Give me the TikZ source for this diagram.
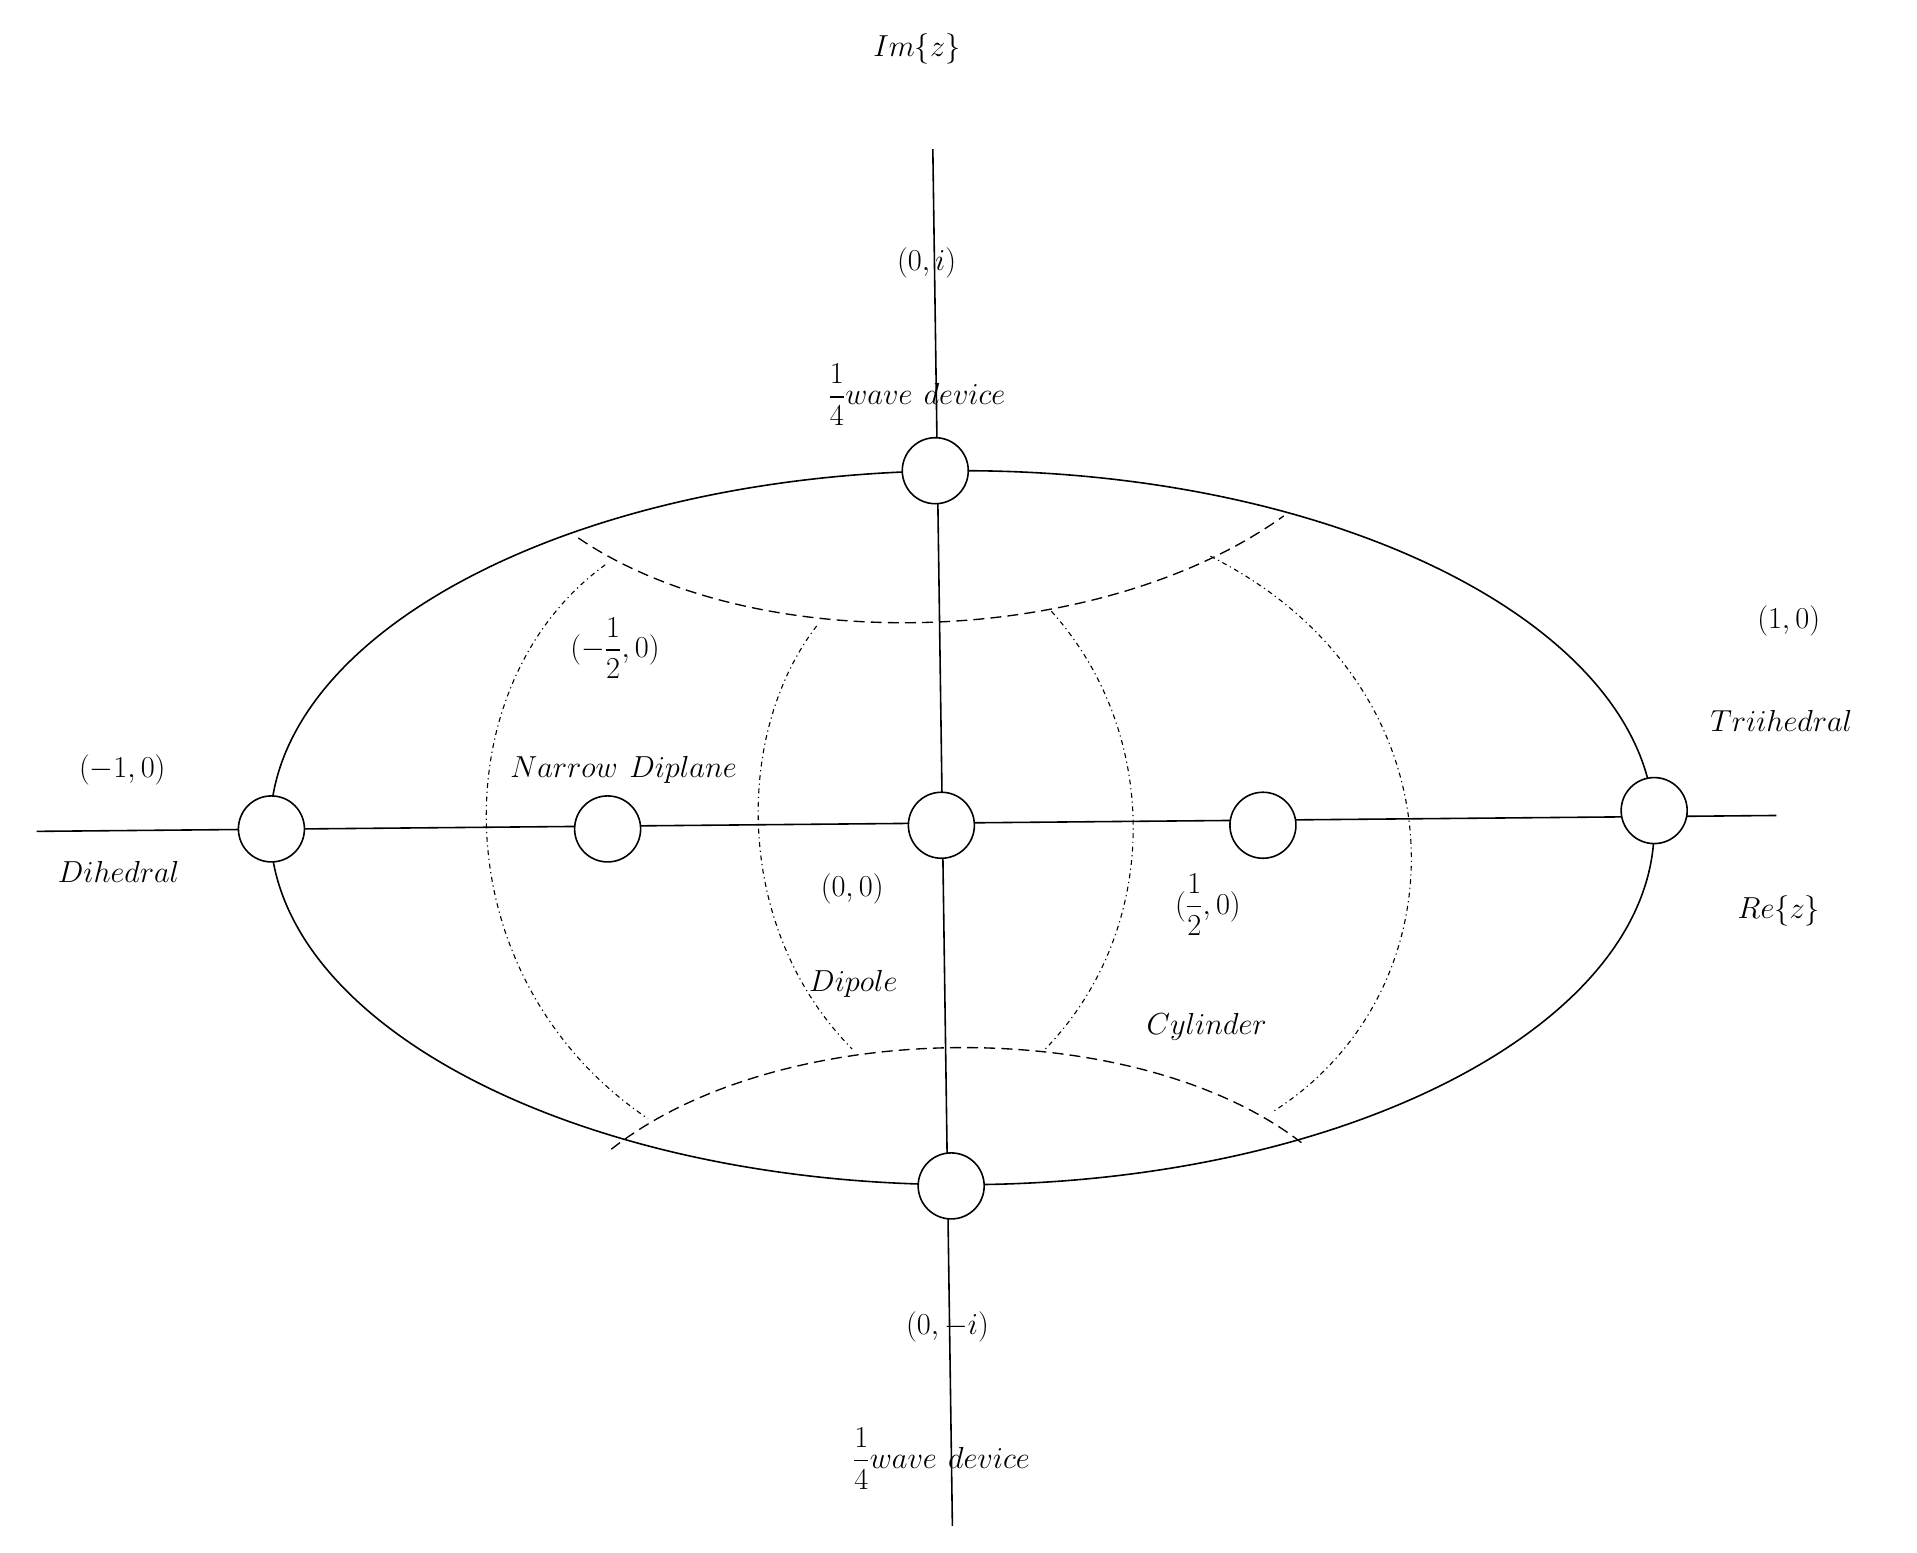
\documentclass[tikz,border=0pt]{standalone}
\usepackage{amsmath}
\begin{document}
\begin{tikzpicture}[x=1pt,y=-1pt,
  lab/.style={font=\fontsize{31}{37}\selectfont, inner sep=0pt},
  pt/.style={circle, draw, fill=white, line width=1.3pt, minimum size=54pt, inner sep=0pt},
  ax/.style={line width=1.3pt},
  dsh/.style={line width=1.1pt, dash pattern=on 9pt off 5pt},
  dot/.style={line width=0.9pt, dash pattern=on 4pt off 3pt on 1pt off 3pt}]
\useasboundingbox (0,0) rectangle (1568,1270);
\coordinate (top) at (763,122);
\coordinate (bot) at (779,1248);
\coordinate (lft) at (30,680);
\coordinate (rgt) at (1453,667);
\draw[ax] (top) -- (bot);
\draw[ax] (lft) -- (rgt);
\draw[ax] (787,677) ellipse [x radius=566, y radius=292];
% dashed arcs
\draw[dsh] (473,440) .. controls (620,540) and (900,530) .. (1050,422);
\draw[dsh] (500,940) .. controls (640,830) and (930,830) .. (1065,935);
% dotted curves
\draw[dot] (495,462) .. controls (360,560) and (360,800) .. (530,915);
\draw[dot] (668,512) .. controls (600,600) and (600,760) .. (697,858);
\draw[dot] (860,500) .. controls (950,600) and (950,760) .. (855,858);
\draw[dot] (990,455) .. controls (1200,560) and (1200,810) .. (1040,910);
% points
\node[pt] (pm1) at (222,678) {};
\node[pt] (pmh) at (497,678) {};
\node[pt] (p0) at (770,675) {};
\node[pt] (ph) at (1033,675) {};
\node[pt] (p1) at (1353,663) {};
\node[pt] (pi) at (765,385) {};
\node[pt] (pmi) at (778,970) {};
% labels
\node[lab] (l1) at (750,40) {$Im\{z\}$};
\node[lab] (l2) at (758,215) {$(0,i)$};
\node[lab] (l3) at (750,323) {$\dfrac{1}{4}wave\ device$};
\node[lab] (l4) at (503,530) {$(-\dfrac{1}{2},0)$};
\node[lab] (l5) at (1463,508) {$(1,0)$};
\node[lab] (l6) at (1457,590) {$Triihedral$};
\node[lab] (l7) at (100,630) {$(-1,0)$};
\node[lab] (l8) at (510,630) {$Narrow\ Diplane$};
\node[lab] (l9) at (97,713) {$Dihedral$};
\node[lab] (l10) at (697,727) {$(0,0)$};
\node[lab] (l11) at (988,740) {$(\dfrac{1}{2},0)$};
\node[lab] (l12) at (1455,745) {$Re\{z\}$};
\node[lab] (l13) at (698,805) {$Dipole$};
\node[lab] (l14) at (987,840) {$Cylinder$};
\node[lab] (l15) at (775,1085) {$(0,-i)$};
\node[lab] (l16) at (770,1193) {$\dfrac{1}{4}wave\ device$};
\end{tikzpicture}
\end{document}
